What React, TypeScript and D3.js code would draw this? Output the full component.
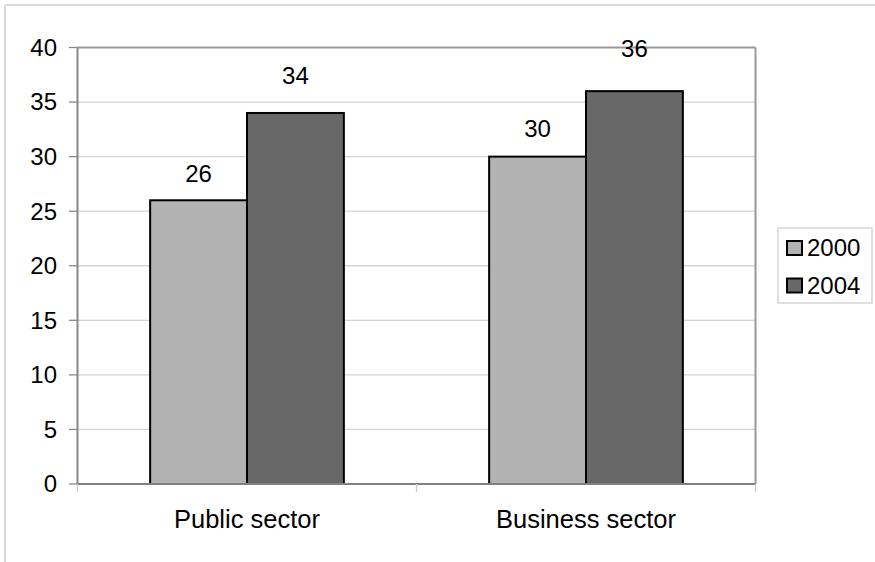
import React from "react";
import * as d3 from "d3";

const categories = ["Public sector", "Business sector"];
const seriesNames = ["2000", "2004"];
const values2000 = [26, 30];
const values2004 = [34, 36];
const yTicks = [0, 5, 10, 15, 20, 25, 30, 35, 40];
const colors = ["#b2b2b2", "#686868"];
// pixel lift of each value label above its bar [series][category]
const labelLift = [
  [18, 20],
  [29, 34],
];

const W = 875;
const H = 562;
const M = { left: 77.5, right: 755.5, top: 47.5, bottom: 484 };
const FONT = "'Liberation Sans', Arial, sans-serif";

export default function App() {
  const x = d3.scaleBand<string>().domain(categories).range([M.left, M.right]).padding(0);
  const y = d3.scaleLinear().domain([0, 40]).range([M.bottom, M.top]);
  const bw = x.bandwidth();
  const barW = bw / 3.5;
  const inner = d3
    .scaleBand<string>()
    .domain(seriesNames)
    .range([(bw - 2 * barW) / 2, (bw + 2 * barW) / 2]);
  const series = [values2000, values2004];

  return (
    <svg
      width={W}
      height={H}
      style={{ position: "absolute", left: 0, top: 0, background: "#fff" }}
      fontFamily={FONT}
    >
      <rect x={0} y={0} width={W} height={H} fill="#fff" />
      {/* outer frame */}
      <line x1={5} y1={5} x2={W} y2={5} stroke="#dadada" strokeWidth={2} />
      <line x1={5} y1={5} x2={5} y2={H} stroke="#dadada" strokeWidth={2} />

      {/* gridlines */}
      {yTicks.map((t) => (
        <line
          key={"g" + t}
          x1={M.left}
          x2={M.right}
          y1={y(t)}
          y2={y(t)}
          stroke={t === 40 ? "#999" : "#d4d4d4"}
          strokeWidth={t === 40 ? 2 : 1.3}
        />
      ))}
      {/* right border */}
      <line x1={M.right} x2={M.right} y1={M.top} y2={M.bottom} stroke="#999" strokeWidth={2} />

      {/* bars */}
      {series.map((vals, si) =>
        categories.map((c, ci) => {
          const x0 = (x(c) as number) + (inner(seriesNames[si]) as number);
          return (
            <rect
              key={si + "-" + ci}
              x={x0}
              y={y(vals[ci])}
              width={barW}
              height={y(0) - y(vals[ci])}
              fill={colors[si]}
              stroke="#000"
              strokeWidth={2}
            />
          );
        })
      )}

      {/* value labels */}
      {series.map((vals, si) =>
        categories.map((c, ci) => {
          const x0 = (x(c) as number) + (inner(seriesNames[si]) as number);
          return (
            <text
              key={"l" + si + "-" + ci}
              x={x0 + barW / 2}
              y={y(vals[ci]) - labelLift[si][ci]}
              textAnchor="middle"
              fontSize={24}
              fill="#000"
            >
              {vals[ci]}
            </text>
          );
        })
      )}

      {/* y axis */}
      <line x1={M.left} x2={M.left} y1={M.top} y2={M.bottom} stroke="#888" strokeWidth={2} />
      {yTicks.map((t) => (
        <g key={"t" + t}>
          <line x1={69} x2={M.left} y1={y(t)} y2={y(t)} stroke="#888" strokeWidth={1.3} />
          <text x={57} y={y(t)} dy="0.35em" textAnchor="end" fontSize={24} fill="#000">
            {t}
          </text>
        </g>
      ))}

      {/* x axis */}
      <line x1={M.left} x2={M.right} y1={M.bottom} y2={M.bottom} stroke="#808080" strokeWidth={2} />
      {[...categories.map((c) => x(c) as number), M.right].map((bx, i) => (
        <line key={"xt" + i} x1={bx} x2={bx} y1={M.bottom} y2={492} stroke="#ccc" strokeWidth={1.3} />
      ))}
      {categories.map((c) => (
        <text
          key={"c" + c}
          x={(x(c) as number) + bw / 2}
          y={528}
          textAnchor="middle"
          fontSize={25.5}
          fill="#000"
        >
          {c}
        </text>
      ))}

      {/* legend */}
      <rect x={778} y={228} width={94} height={75} fill="#fff" stroke="#d0d0d0" strokeWidth={1.3} />
      {seriesNames.map((s, i) => (
        <g key={"lg" + s} transform={`translate(0, ${i * 37.5})`}>
          <rect x={787} y={241} width={15} height={14} fill={colors[i]} stroke="#000" strokeWidth={2} />
          <text x={807} y={256} fontSize={24} fill="#000">
            {s}
          </text>
        </g>
      ))}
    </svg>
  );
}
